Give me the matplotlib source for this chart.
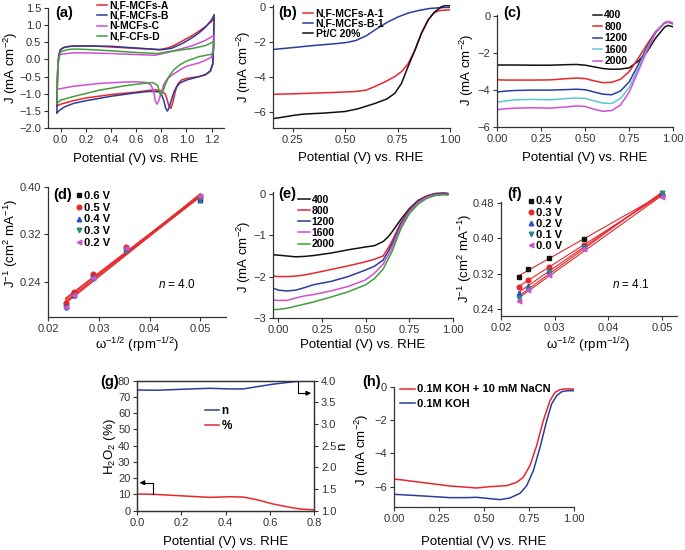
import matplotlib
matplotlib.use('Agg')
import matplotlib.pyplot as plt
import numpy as np

plt.rcParams.update({
    'font.family': ['Liberation Sans', 'DejaVu Sans'],
    'mathtext.fontset': 'custom',
    'mathtext.rm': 'Liberation Sans',
    'mathtext.it': 'Liberation Sans:italic',
    'mathtext.bf': 'Liberation Sans:bold',
    'font.size': 8,
    'axes.linewidth': 0.9,
    'axes.edgecolor': '#333333',
    'xtick.major.size': 3, 'ytick.major.size': 3,
    'xtick.major.width': 0.8, 'ytick.major.width': 0.8,
    'xtick.major.pad': 2, 'ytick.major.pad': 2,
    'xtick.labelsize': 8, 'ytick.labelsize': 8,
    'xtick.color': '#333333', 'ytick.color': '#333333',
    'axes.unicode_minus': True,
})

# ---------------- data ----------------
# (a) CV loops (potential, current)
A_V = [-0.03, -0.028, -0.025, -0.02, -0.01, 0.0, 0.02, 0.05, 0.1, 0.2, 0.3, 0.4, 0.5, 0.6, 0.7, 0.78, 0.85, 0.9, 0.95, 1.0, 1.05, 1.1, 1.15, 1.2, 1.22,
       1.215, 1.21, 1.19, 1.15, 1.1, 1.0, 0.96, 0.93, 0.91, 0.895, 0.877, 0.86, 0.845, 0.83, 0.8, 0.75, 0.7, 0.6, 0.4, 0.2, 0.1, 0.0, -0.03]
A_J = [-1.35, -0.9, -0.4, 0.0, 0.2, 0.28, 0.34, 0.37, 0.39, 0.39, 0.38, 0.36, 0.34, 0.32, 0.3, 0.28, 0.33, 0.4, 0.5, 0.6, 0.7, 0.82, 0.95, 1.1, 1.22,
       0.4, -0.15, -0.35, -0.45, -0.5, -0.55, -0.6, -0.72, -0.95, -1.2, -1.42, -1.35, -1.15, -1.0, -0.92, -0.88, -0.9, -0.95, -1.02, -1.12, -1.2, -1.3, -1.35]
B_V = [-0.03, -0.028, -0.025, -0.02, -0.012, -0.005, 0.0, 0.03, 0.08, 0.2, 0.4, 0.6, 0.8, 0.88, 0.95, 1.0, 1.05, 1.1, 1.15, 1.2, 1.22,
       1.215, 1.21, 1.19, 1.15, 1.1, 1.05, 1.0, 0.95, 0.92, 0.9, 0.88, 0.86, 0.848, 0.835, 0.82, 0.8, 0.78, 0.7, 0.6, 0.4, 0.2, 0.1, 0.03, 0.0, -0.03]
B_J = [-1.55, -1.0, -0.5, -0.1, 0.15, 0.25, 0.29, 0.35, 0.38, 0.39, 0.38, 0.33, 0.28, 0.32, 0.43, 0.53, 0.64, 0.77, 0.93, 1.15, 1.3,
       0.45, -0.1, -0.33, -0.44, -0.5, -0.55, -0.6, -0.68, -0.8, -0.95, -1.18, -1.42, -1.5, -1.42, -1.2, -1.0, -0.94, -0.93, -0.97, -1.07, -1.2, -1.28, -1.38, -1.45, -1.55]
C_V = [-0.03, -0.027, -0.022, -0.015, -0.005, 0.0, 0.05, 0.1, 0.2, 0.4, 0.6, 0.75, 0.85, 0.95, 1.05, 1.15, 1.22,
       1.215, 1.2, 1.15, 1.1, 1.0, 0.95, 0.9, 0.85, 0.82, 0.8, 0.78, 0.765, 0.752, 0.74, 0.72, 0.68, 0.6, 0.5, 0.3, 0.1, -0.03]
C_J = [-0.87, -0.5, -0.15, 0.05, 0.13, 0.15, 0.17, 0.19, 0.19, 0.17, 0.14, 0.12, 0.2, 0.3, 0.4, 0.55, 0.7,
       0.3, 0.07, -0.03, -0.1, -0.2, -0.3, -0.42, -0.55, -0.72, -0.95, -1.2, -1.3, -1.2, -0.95, -0.75, -0.67, -0.65, -0.66, -0.7, -0.78, -0.87]
D_V = [-0.03, -0.027, -0.022, -0.015, -0.005, 0.0, 0.05, 0.1, 0.2, 0.4, 0.6, 0.77, 0.85, 0.95, 1.05, 1.15, 1.22,
       1.215, 1.2, 1.1, 1.0, 0.95, 0.9, 0.86, 0.83, 0.81, 0.795, 0.785, 0.77, 0.73, 0.65, 0.5, 0.3, 0.1, 0.0, -0.03]
D_J = [-1.28, -0.8, -0.3, 0.05, 0.18, 0.22, 0.28, 0.3, 0.29, 0.25, 0.2, 0.17, 0.22, 0.27, 0.32, 0.4, 0.52,
       0.25, 0.15, 0.08, -0.05, -0.15, -0.3, -0.5, -0.75, -0.95, -1.05, -0.95, -0.75, -0.67, -0.7, -0.77, -0.9, -1.08, -1.18, -1.28]
a_labels = ['N,F-MCFs-A', 'N,F-MCFs-B', 'N-MCFs-C', 'N,F-CFs-D']

# (b) LSV comparison
b_blue_V = [0.155, 0.25, 0.35, 0.45, 0.5, 0.55, 0.6, 0.65, 0.7, 0.75, 0.8, 0.85, 0.9, 0.95, 1.0]
b_blue_J = [-2.43, -2.32, -2.2, -2.1, -2.04, -1.92, -1.65, -1.25, -0.88, -0.58, -0.35, -0.2, -0.09, -0.04, -0.02]
b_red_V = [0.155, 0.25, 0.35, 0.45, 0.55, 0.6, 0.64, 0.69, 0.74, 0.77, 0.8, 0.833, 0.864, 0.896, 0.92, 0.95, 1.0]
b_red_J = [-4.99, -4.96, -4.92, -4.88, -4.83, -4.75, -4.55, -4.28, -3.95, -3.68, -3.25, -2.46, -1.5, -0.74, -0.36, -0.2, -0.16]
b_blk_V = [0.155, 0.2, 0.25, 0.3, 0.4, 0.5, 0.56, 0.64, 0.7, 0.737, 0.769, 0.8, 0.833, 0.864, 0.896, 0.928, 0.96, 0.98, 1.0]
b_blk_J = [-6.38, -6.3, -6.2, -6.12, -6.06, -5.97, -5.82, -5.52, -5.25, -4.93, -4.36, -3.41, -2.46, -1.5, -0.74, -0.27, 0.02, 0.08, 0.07]
b_labels = ['N,F-MCFs-A-1', 'N,F-MCFs-B-1', 'Pt/C 20%']

# (c) rotation-rate LSV
c_V = [0, 0.05, 0.1, 0.2, 0.3, 0.4, 0.45, 0.5, 0.55, 0.6, 0.65, 0.7, 0.75, 0.8, 0.85, 0.9, 0.95, 0.97, 1.0]
c_400 = [-2.65, -2.65, -2.65, -2.66, -2.66, -2.63, -2.62, -2.66, -2.75, -2.84, -2.88, -2.87, -2.8, -2.45, -1.95, -1.2, -0.62, -0.52, -0.6]
c_800 = [-3.45, -3.46, -3.46, -3.46, -3.45, -3.38, -3.35, -3.38, -3.5, -3.6, -3.58, -3.42, -3.0, -2.3, -1.55, -0.85, -0.4, -0.35, -0.45]
c_1200 = [-4.1, -4.05, -4.02, -4.0, -4.0, -3.97, -3.95, -3.98, -4.1, -4.22, -4.25, -4.05, -3.55, -2.65, -1.7, -0.88, -0.38, -0.33, -0.42]
c_1600 = [-4.65, -4.58, -4.52, -4.5, -4.52, -4.45, -4.42, -4.45, -4.58, -4.7, -4.72, -4.45, -3.85, -2.85, -1.8, -0.9, -0.37, -0.32, -0.4]
c_2000 = [-5.05, -5.0, -4.97, -4.95, -4.97, -4.9, -4.85, -4.88, -5.03, -5.14, -5.1, -4.8, -4.1, -3.0, -1.9, -0.92, -0.38, -0.3, -0.38]
rpm_labels = ['400', '800', '1200', '1600', '2000']

# (d) K-L plot
kl_x = [0.0234, 0.025, 0.0289, 0.0354, 0.05]
d_06 = [0.203, 0.222, 0.252, 0.298, 0.380]
d_05 = [0.205, 0.224, 0.253, 0.299, 0.382]
d_04 = [0.200, 0.219, 0.249, 0.296, 0.378]
d_03 = [0.196, 0.216, 0.245, 0.294, 0.380]
d_02 = [0.199, 0.218, 0.247, 0.297, 0.384]
d_labels = ['0.6 V', '0.5 V', '0.4 V', '0.3 V', '0.2 V']

# (e) rotation-rate LSV
e_V = [-0.03, 0.0, 0.05, 0.1, 0.15, 0.2, 0.3, 0.4, 0.5, 0.55, 0.6, 0.63, 0.65, 0.7, 0.75, 0.8, 0.85, 0.9, 0.95, 0.97]
e_400 = [-1.47, -1.48, -1.5, -1.52, -1.51, -1.49, -1.43, -1.35, -1.28, -1.25, -1.15, -1.03, -0.92, -0.62, -0.35, -0.15, -0.04, 0.02, 0.03, 0.02]
e_800 = [-1.99, -2.0, -2.0, -1.99, -1.96, -1.92, -1.83, -1.74, -1.64, -1.58, -1.5, -1.3, -1.15, -0.7, -0.38, -0.17, -0.05, 0.01, 0.02, 0.01]
e_1200 = [-2.28, -2.33, -2.35, -2.33, -2.27, -2.2, -2.12, -2.0, -1.84, -1.75, -1.6, -1.38, -1.22, -0.73, -0.4, -0.18, -0.06, 0.0, 0.01, 0.0]
e_1600 = [-2.57, -2.58, -2.58, -2.52, -2.47, -2.44, -2.35, -2.24, -2.08, -1.92, -1.7, -1.47, -1.3, -0.78, -0.42, -0.2, -0.07, -0.01, 0.0, -0.01]
e_2000 = [-2.8, -2.8, -2.77, -2.72, -2.67, -2.62, -2.5, -2.37, -2.2, -2.05, -1.82, -1.57, -1.4, -0.85, -0.47, -0.24, -0.1, -0.03, -0.01, -0.02]

# (f) K-L plot
f_04 = [0.312, 0.330, 0.355, 0.399, 0.500]
f_03 = [0.289, 0.306, 0.336, 0.385, 0.499]
f_02 = [0.276, 0.292, 0.327, 0.382, 0.503]
f_01 = [0.264, 0.286, 0.323, 0.378, 0.504]
f_00 = [0.258, 0.282, 0.317, 0.376, 0.495]
f_labels = ['0.4 V', '0.3 V', '0.2 V', '0.1 V', '0.0 V']

# (g) RRDE
g_V = [0.0, 0.088, 0.193, 0.329, 0.42, 0.48, 0.54, 0.615, 0.69, 0.735, 0.8]
g_n = [3.785, 3.78, 3.80, 3.825, 3.81, 3.81, 3.86, 3.92, 3.965, 3.99, 3.995]
g_pct = [10.3, 10.0, 9.2, 8.2, 8.6, 8.4, 6.8, 4.1, 2.1, 1.1, 0.5]

# (h) cyanide poisoning
h_red_V = [0.0, 0.033, 0.163, 0.31, 0.458, 0.532, 0.625, 0.68, 0.717, 0.754, 0.791, 0.828, 0.865, 0.893, 0.92, 0.95, 1.0]
h_red_J = [-5.55, -5.58, -5.76, -5.96, -6.08, -6.0, -5.94, -5.74, -5.44, -4.74, -3.54, -2.04, -0.84, -0.34, -0.18, -0.13, -0.14]
h_blue_V = [0.0, 0.033, 0.163, 0.31, 0.4, 0.458, 0.532, 0.588, 0.643, 0.699, 0.736, 0.773, 0.81, 0.847, 0.874, 0.902, 0.93, 0.96, 1.0]
h_blue_J = [-6.46, -6.48, -6.56, -6.66, -6.66, -6.64, -6.72, -6.78, -6.68, -6.4, -5.94, -5.04, -3.64, -2.04, -1.04, -0.54, -0.3, -0.24, -0.24]
h_labels = ['0.1M KOH + 10 mM NaCN', '0.1M KOH']

# ---------------- style ----------------
RED = '#e8262c'
BLUE = '#2b3c9c'
MAG = '#d04fd2'
GRN = '#3f9f3b'
CYAN = '#5cc6d0'
TEAL = '#2a8a84'
BLK = '#111111'
LW = 1.1

W, H = 685, 550
fig = plt.figure(figsize=(W / 100, H / 100), dpi=100)


def axpx(l, t, r, b):
    return fig.add_axes([l / W, 1 - b / H, (r - l) / W, (b - t) / H])


def open_style(ax):
    ax.spines['top'].set_visible(False)
    ax.spines['right'].set_visible(False)


def labels(ax, xl, yl, xpos, ypos):
    ax.set_xlabel(xl, fontsize=9.5, va='center')
    ax.set_ylabel(yl, fontsize=9.5, va='center')
    ax.xaxis.set_label_coords(xpos[0] / W, 1 - xpos[1] / H, transform=fig.transFigure)
    ax.yaxis.set_label_coords(ypos[0] / W, 1 - ypos[1] / H, transform=fig.transFigure)


def leg(ax, handles, labs, x, ytop, fs, ls, hl, htp):
    return ax.legend(handles, labs, loc='upper left', bbox_to_anchor=(x / W, 1 - ytop / H),
                     bbox_transform=fig.transFigure, frameon=False, borderpad=0, borderaxespad=0,
                     prop={'size': fs, 'weight': 'bold'}, labelspacing=ls, handlelength=hl,
                     handletextpad=htp, numpoints=1)


def plabel(txt, x, y):
    fig.text(x / W, 1 - y / H, txt, fontsize=10.5, fontweight='bold', ha='left', va='center')


POT = 'Potential (V) vs. RHE'
JL = 'J (mA cm$^{-2}$)'
KLY = 'J$^{-1}$ (cm$^{2}$ mA$^{-1}$)'
KLX = '\u03c9$^{-1/2}$ (rpm$^{-1/2}$)'

# ---------------- (a) ----------------
ax = axpx(48.1, 7.7, 224.2, 128.3)
open_style(ax)
la = ax.plot(A_V, A_J, color=RED, lw=LW)[0]
lb = ax.plot(B_V, B_J, color=BLUE, lw=LW)[0]
lc = ax.plot(C_V, C_J, color=MAG, lw=LW)[0]
ld = ax.plot(D_V, D_J, color=GRN, lw=LW)[0]
ax.set_xlim(-0.1, 1.3)
ax.set_ylim(-2.0, 1.5)
ax.set_xticks(np.arange(0, 1.21, 0.2))
ax.set_yticks(np.arange(-2.0, 1.51, 0.5))
labels(ax, POT, JL, (136, 159), (11, 68))
leg(ax, [la, lb, lc, ld], a_labels, 97, 0.5, 7.5, 0.04, 1.0, 0.15)
plabel('(a)', 55, 13)

# ---------------- (b) ----------------
ax = axpx(272.7, 5.25, 450, 128.3)
open_style(ax)
h1 = ax.plot(b_red_V, b_red_J, color=RED, lw=LW)[0]
h2 = ax.plot(b_blue_V, b_blue_J, color=BLUE, lw=LW)[0]
h3 = ax.plot(b_blk_V, b_blk_J, color=BLK, lw=LW)[0]
ax.set_xlim(0.155, 1.0)
ax.set_ylim(-6.93, 0.1)
ax.set_xticks([0.25, 0.5, 0.75, 1.0])
ax.set_yticks([0, -2, -4, -6])
labels(ax, POT, JL, (361, 158), (244, 67))
leg(ax, [h1, h2, h3], b_labels, 303, 8.4, 7.5, 0.02, 1.0, 0.2)
plabel('(b)', 278, 13)

# ---------------- (c) ----------------
ax = axpx(497.3, 14.8, 673.3, 127.3)
open_style(ax)
cols5 = [BLK, RED, BLUE, CYAN, MAG]
hs = []
for ys, col in zip([c_400, c_800, c_1200, c_1600, c_2000], cols5):
    hs.append(ax.plot(c_V, ys, color=col, lw=LW)[0])
ax.set_xlim(0, 1.0)
ax.set_ylim(-6, 0.05)
ax.set_xticks([0, 0.25, 0.5, 0.75, 1.0])
ax.set_yticks([0, -2, -4, -6])
labels(ax, POT, JL, (585, 158), (467, 70))
leg(ax, hs, rpm_labels, 592.7, 10.5, 7.5, 0.14, 0.9, 0.2)
plabel('(c)', 503, 13)

# ---------------- (d) ----------------
ax = axpx(48.3, 186.7, 225.7, 316.7)
open_style(ax)
mk = [('s', BLK), ('o', RED), ('^', '#2f4fc4'), ('v', TEAL), ('<', '#c955cc')]
xs = np.array(kl_x)
hs = []
for ys, (m, col) in zip([d_06, d_05, d_04, d_03, d_02], mk):
    p = np.polyfit(xs, ys, 1)
    ax.plot([xs[0], xs[-1]], np.polyval(p, [xs[0], xs[-1]]), color=RED, lw=0.8, zorder=2)
    hs.append(ax.plot(xs, ys, ls='none', marker=m, ms=3.3, color=col, mec=col, zorder=3)[0])
ax.set_xlim(0.02, 0.055)
ax.set_ylim(0.182, 0.40)
ax.set_xticks([0.02, 0.03, 0.04, 0.05])
ax.set_yticks([0.24, 0.32, 0.40])
ax.text(0.0453, 0.2355, '$n$ = 4.0', fontsize=8.5, ha='center', va='center')
labels(ax, KLX, KLY, (137, 345), (11, 243))
leg(ax, hs, d_labels, 77, 190.7, 8, 0.17, 0.4, 0.2)
plabel('(d)', 53, 195)

# ---------------- (e) ----------------
ax = axpx(272.7, 191.8, 453, 317.7)
open_style(ax)
cols5e = [BLK, RED, BLUE, MAG, GRN]
hs = []
for ys, col in zip([e_400, e_800, e_1200, e_1600, e_2000], cols5e):
    hs.append(ax.plot(e_V, ys, color=col, lw=LW)[0])
ax.set_xlim(-0.032, 1.0)
ax.set_ylim(-3, 0.06)
ax.set_xticks([0, 0.25, 0.5, 0.75, 1.0])
ax.set_yticks([0, -1, -2, -3])
labels(ax, POT, JL, (363, 345), (244, 257))
leg(ax, hs, rpm_labels, 298.3, 194.7, 7.5, 0.11, 1.1, 0.2)
plabel('(e)', 278, 194)

# ---------------- (f) ----------------
ax = axpx(501, 202, 676.7, 316)
open_style(ax)
hs = []
for ys, (m, col) in zip([f_04, f_03, f_02, f_01, f_00], mk):
    p = np.polyfit(xs, ys, 1)
    ax.plot([xs[0], xs[-1]], np.polyval(p, [xs[0], xs[-1]]), color=RED, lw=0.8, zorder=2, clip_on=False)
    hs.append(ax.plot(xs, ys, ls='none', marker=m, ms=3.3, color=col, mec=col, zorder=3, clip_on=False)[0])
ax.set_xlim(0.02, 0.0527)
ax.set_ylim(0.2235, 0.483)
ax.set_xticks([0.02, 0.03, 0.04, 0.05])
ax.set_yticks([0.24, 0.32, 0.40, 0.48])
ax.text(0.0442, 0.2945, '$n$ = 4.1', fontsize=8.5, ha='center', va='center')
labels(ax, KLX, KLY, (588, 345), (465, 258))
leg(ax, hs, f_labels, 529, 196.4, 8, 0.1, 0.4, 0.2)
plabel('(f)', 507, 194)

# ---------------- (g) ----------------
ax = axpx(137.3, 380.7, 314, 510.7)
ax2 = ax.twinx()
hp = ax.plot(g_V, g_pct, color=RED, lw=LW)[0]
hn = ax2.plot(g_V, g_n, color=BLUE, lw=LW)[0]
ax.set_xlim(0, 0.8)
ax.set_ylim(0, 80)
ax2.set_ylim(1.0, 4.0)
ax.set_xticks([0, 0.2, 0.4, 0.6, 0.8])
ax.set_yticks(np.arange(0, 81, 10))
ax2.set_yticks(np.arange(1.0, 4.01, 0.5))
ax.set_xlabel(POT, fontsize=9.5, va='center')
ax.xaxis.set_label_coords(225.6 / W, 1 - 541.7 / H, transform=fig.transFigure)
ax.set_ylabel('H$_2$O$_2$ (%)', fontsize=9.5, va='center')
ax.yaxis.set_label_coords(110 / W, 1 - 446.7 / H, transform=fig.transFigure)
ax2.set_ylabel('n', fontsize=9.5, va='center')
ax2.yaxis.set_label_coords(342 / W, 1 - 446.7 / H, transform=fig.transFigure)
# arrows pointing to the relevant axes
ax.plot([0.0725, 0.0725, 0.03], [10.1, 17.2, 17.2], color='k', lw=0.8)
ax.annotate('', xy=(0.01, 17.2), xytext=(0.035, 17.2),
            arrowprops=dict(arrowstyle='-|>', color='k', lw=0.8, mutation_scale=7, shrinkA=0, shrinkB=0))
ax2.plot([0.729, 0.729, 0.77], [3.99, 3.71, 3.71], color='k', lw=0.8)
ax2.annotate('', xy=(0.787, 3.71), xytext=(0.765, 3.71),
             arrowprops=dict(arrowstyle='-|>', color='k', lw=0.8, mutation_scale=7, shrinkA=0, shrinkB=0))
leg(ax, [hn, hp], ['n', '%'], 205, 404.7, 8.5, 0.27, 1.2, 0.2)
plabel('(g)', 100, 382)

# ---------------- (h) ----------------
ax = axpx(394, 386.7, 574.3, 507.3)
open_style(ax)
hr = ax.plot(h_red_V, h_red_J, color=RED, lw=LW)[0]
hb = ax.plot(h_blue_V, h_blue_J, color=BLUE, lw=LW)[0]
ax.set_xlim(0, 1.0)
ax.set_ylim(-7.24, 0)
ax.set_xticks([0, 0.25, 0.5, 0.75, 1.0])
ax.set_yticks([0, -2, -4, -6])
labels(ax, POT, JL, (484, 541.7), (362, 450))
leg(ax, [hr, hb], h_labels, 400, 384.5, 8, 0.37, 1.35, 0.2)
plabel('(h)', 362, 382)

fig.savefig('out.png', dpi=100)
